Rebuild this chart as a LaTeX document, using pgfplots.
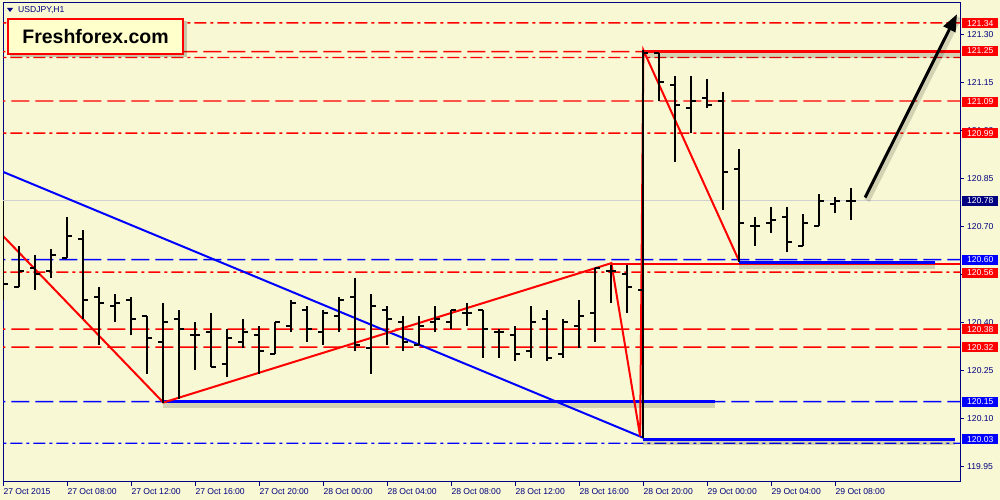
\documentclass[border=0pt]{standalone}
\usepackage{pgfplots}
\pgfplotsset{compat=1.18}
\usepackage{pgfplotstable}
\usepackage{fontspec}
\setmainfont{Liberation Sans}
\usetikzlibrary{arrows.meta,decorations.markings}

\definecolor{bg}{HTML}{F8F8D4}
\definecolor{navy}{HTML}{000080}
\definecolor{mtred}{HTML}{FF0000}
\definecolor{mtblue}{HTML}{0000FF}
\definecolor{pricegray}{HTML}{D0D0D0}
\definecolor{logofill}{HTML}{FFFFCC}

% open tick to the left, close tick to the right
\pgfdeclareplotmark{otick}{\pgfpathmoveto{\pgfpointorigin}\pgfpathlineto{\pgfpoint{-5pt}{0pt}}\pgfusepathqstroke}
\pgfdeclareplotmark{ctick}{\pgfpathmoveto{\pgfpointorigin}\pgfpathlineto{\pgfpoint{5pt}{0pt}}\pgfusepathqstroke}

% USDJPY H1, bar 0 = 27 Oct 04:00
\pgfplotstableread{
i  o      h      l      c
0  nan    120.78 120.47 120.52
1  120.51 120.64 120.51 120.56
2  120.57 120.61 120.50 120.55
3  120.56 120.63 120.54 120.61
4  120.60 120.73 120.60 120.67
5  120.66 120.69 120.41 120.47
6  120.48 120.51 120.33 120.46
7  120.45 120.49 120.40 120.46
8  120.47 120.48 120.36 120.41
9  120.42 120.42 120.24 120.35
10 120.34 120.46 120.15 120.40
11 120.41 120.44 120.16 120.38
12 120.36 120.40 120.25 120.36
13 120.37 120.43 120.26 120.26
14 120.27 120.38 120.23 120.35
15 120.34 120.41 120.32 120.37
16 120.36 120.39 120.24 120.31
17 120.30 120.40 120.30 120.40
18 120.39 120.47 120.37 120.46
19 120.44 120.45 120.34 120.38
20 120.37 120.44 120.33 120.43
21 120.42 120.48 120.37 120.47
22 120.48 120.54 120.31 120.33
23 120.32 120.49 120.24 120.45
24 120.44 120.45 120.33 120.41
25 120.40 120.42 120.31 120.34
26 120.33 120.42 120.33 120.39
27 120.40 120.45 120.37 120.41
28 120.40 120.44 120.38 120.44
29 120.43 120.46 120.39 120.43
30 120.44 120.44 120.29 120.38
31 120.37 120.38 120.29 120.37
32 120.36 120.39 120.28 120.30
33 120.31 120.45 120.29 120.40
34 120.41 120.44 120.28 120.29
35 120.30 120.41 120.29 120.40
36 120.39 120.47 120.32 120.42
37 120.43 120.57 120.34 120.57
38 120.56 120.58 120.46 120.56
39 120.55 120.58 120.43 120.51
40 120.50 121.25 120.04 121.24
41 121.24 121.24 121.09 121.15
42 121.14 121.17 120.90 121.08
43 121.07 121.17 120.99 121.09
44 121.10 121.16 121.07 121.08
45 121.09 121.12 120.75 120.87
46 120.88 120.94 120.59 120.71
47 120.70 120.73 120.64 120.70
48 120.71 120.76 120.68 120.72
49 120.73 120.76 120.62 120.65
50 120.64 120.74 120.64 120.71
51 120.70 120.80 120.70 120.78
52 120.77 120.79 120.74 120.78
53 120.78 120.82 120.72 120.78
}\ohlc

% dashes built from small filled pieces
\tikzset{
  lvldash/.style={draw=none, postaction={decorate, decoration={markings,
    mark=between positions 0 and 1 step 24pt with {\fill[#1] (0pt,-0.7pt) rectangle (9.5pt,0.7pt) (9pt,-0.7pt) rectangle (18pt,0.7pt);}}}},
  lvldot/.style={draw=none, postaction={decorate, decoration={markings,
    mark=between positions 0 and 1 step 23pt with {\fill[#1] (0pt,-0.7pt) rectangle (12pt,0.7pt) (16pt,-0.7pt) rectangle (19pt,0.7pt);}}}},
  shadowline/.style={draw=black, draw opacity=0.15, line width=7pt},
  lbl/.style={anchor=west, text=white, minimum width=36pt, minimum height=10pt,
    inner sep=0pt, font=\fontsize{8.6}{10}\selectfont},
}

\begin{document}
\begin{tikzpicture}
\useasboundingbox (0,0) rectangle (1000pt,500pt);
\fill[bg] (0,0) rectangle (1000pt,500pt);
\begin{axis}[
  at={(3pt,18pt)}, anchor=south west,
  width=957pt, height=479pt, scale only axis,
  xmin=-0.02, xmax=59.79, ymin=119.902, ymax=121.397,
  clip mode=individual,
  unbounded coords=discard,
  axis line style={draw=navy, line width=1pt},
  tick style={draw=navy, line width=1pt},
  tick align=outside, major tick length=4pt,
  xtick pos=bottom, ytick pos=right, yticklabel pos=right,
  xtick={0,4,...,52},
  xticklabels={27 Oct 2015,27 Oct 08:00,27 Oct 12:00,27 Oct 16:00,27 Oct 20:00,
    28 Oct 00:00,28 Oct 04:00,28 Oct 08:00,28 Oct 12:00,28 Oct 16:00,28 Oct 20:00,
    29 Oct 00:00,29 Oct 04:00,29 Oct 08:00},
  ytick={119.95,120.10,120.25,120.40,120.55,120.70,120.85,121.00,121.15,121.30},
  yticklabels={119.95,120.10,120.25,120.40,120.55,120.70,120.85,121.00,121.15,121.30},
  tick label style={font=\fontsize{8.6}{10}\selectfont, text=navy, inner sep=0pt},
  xticklabel style={anchor=north west, yshift=-2pt},
  yticklabel style={anchor=west, xshift=3pt},
]
% horizontal levels
\addplot[lvldot=mtred] coordinates {(-1,121.335) (61,121.335)};
\addplot[lvldash=mtred] coordinates {(-1,121.245) (61,121.245)};
\addplot[lvldot=mtred] coordinates {(-1,121.227) (61,121.227)};
\addplot[lvldash=mtred] coordinates {(-1,121.091) (61,121.091)};
\addplot[lvldot=mtred] coordinates {(-1,120.991) (61,120.991)};
\addplot[draw=pricegray, line width=1pt] coordinates {(-1,120.780) (61,120.780)};
\addplot[lvldash=mtblue] coordinates {(-1,120.596) (61,120.596)};
\addplot[lvldot=mtred] coordinates {(-1,120.557) (61,120.557)};
\addplot[lvldash=mtred] coordinates {(-1,120.379) (61,120.379)};
\addplot[lvldash=mtred] coordinates {(-1,120.323) (61,120.323)};
\addplot[lvldash=mtblue] coordinates {(-1,120.153) (61,120.153)};
\addplot[lvldot=mtblue] coordinates {(-1,120.023) (61,120.023)};

% shadows of the thick lines
\addplot[shadowline] coordinates {(40,121.237) (61,121.237)};
\addplot[shadowline] coordinates {(46,120.578) (58.2,120.578)};
\addplot[shadowline] coordinates {(10,120.144) (44.5,120.144)};
\addplot[shadowline] coordinates {(40,120.027) (59.5,120.027)};

% box and channel lines
\addplot[draw=mtred, line width=3pt] coordinates {(40,121.246) (61,121.246)};
\addplot[draw=mtred, line width=2pt] coordinates {(38,120.581) (61,120.581)};
\addplot[draw=mtblue, line width=3pt] coordinates {(46,120.587) (58.2,120.587)};
\addplot[draw=mtblue, line width=3pt] coordinates {(10,120.153) (44.5,120.153)};
\addplot[draw=mtblue, line width=3pt] coordinates {(40,120.036) (59.5,120.036)};

% trend lines
\addplot[draw=mtblue, line width=2pt] coordinates {(-0.02,120.87) (40,120.04)};
\addplot[draw=mtred, line width=2pt] coordinates {(-0.02,120.67) (10,120.15) (38,120.585) (39.8,120.045) (40,121.25) (46,120.59)};

% OHLC bars
\addplot[draw=none, mark=none, forget plot,
  error bars/.cd, y dir=plus, y explicit, error mark=none,
  error bar style={draw=black, solid, line width=2pt}]
  table[x=i, y=l, y error expr=\thisrow{h}-\thisrow{l}] {\ohlc};
\addplot[only marks, mark=otick, mark options={draw=black, solid, line width=2pt}] table[x=i, y=o] {\ohlc};
\addplot[only marks, mark=ctick, mark options={draw=black, solid, line width=2pt}] table[x=i, y=c] {\ohlc};

\coordinate (a0) at (axis cs:53.86,120.79);
\coordinate (a1) at (axis cs:59.6,121.362);
\coordinate (r1) at (axis cs:59.79,121.334);
\coordinate (r2) at (axis cs:59.79,121.248);
\coordinate (r3) at (axis cs:59.79,121.089);
\coordinate (r4) at (axis cs:59.79,120.990);
\coordinate (r5) at (axis cs:59.79,120.780);
\coordinate (r6) at (axis cs:59.79,120.595);
\coordinate (r7) at (axis cs:59.79,120.555);
\coordinate (r8) at (axis cs:59.79,120.379);
\coordinate (r9) at (axis cs:59.79,120.322);
\coordinate (r10) at (axis cs:59.79,120.153);
\coordinate (r11) at (axis cs:59.79,120.035);
\end{axis}

% arrow
\draw[black, opacity=0.15, line width=6pt] ([shift={(2pt,-3pt)}]a0) -- ([shift={(2pt,-3pt)}]a1);
\draw[black, line width=3pt, -{Triangle[length=17pt,width=13pt]}] (a0) -- (a1);

% price labels
\node[lbl, fill=mtred] at ([xshift=2pt]r1) {121.34};
\node[lbl, fill=mtred] at ([xshift=2pt]r2) {121.25};
\node[lbl, fill=mtred] at ([xshift=2pt]r3) {121.09};
\node[lbl, fill=mtred] at ([xshift=2pt]r4) {120.99};
\node[lbl, fill=navy] at ([xshift=2pt]r5) {120.78};
\node[lbl, fill=mtblue] at ([xshift=2pt]r6) {120.60};
\node[lbl, fill=mtred] at ([xshift=2pt]r7) {120.56};
\node[lbl, fill=mtred] at ([xshift=2pt]r8) {120.38};
\node[lbl, fill=mtred] at ([xshift=2pt]r9) {120.32};
\node[lbl, fill=mtblue] at ([xshift=2pt]r10) {120.15};
\node[lbl, fill=mtblue] at ([xshift=2pt]r11) {120.03};

% header and logo
\fill[navy] (7pt,492pt) -- (13pt,492pt) -- (10pt,488pt) -- cycle;
\node[anchor=west, text=navy, inner sep=0pt, font=\fontsize{8.6}{10}\selectfont] at (18pt,490pt) {USDJPY,H1};
\fill[black, opacity=0.2] (10pt,443pt) rectangle (187pt,479pt);
\draw[mtred, line width=2pt, fill=logofill] (8pt,446pt) rectangle (183pt,481pt);
\node[font=\fontsize{19.5}{22}\selectfont\bfseries, inner sep=0pt] at (95.5pt,463.5pt) {Freshforex.com};
\end{tikzpicture}
\end{document}
